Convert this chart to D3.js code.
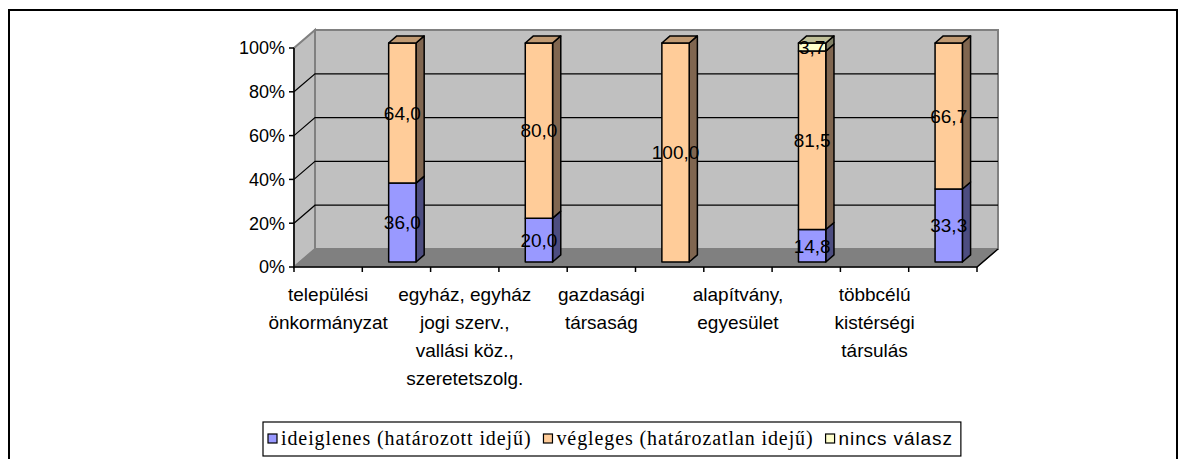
<!DOCTYPE html>
<html>
<head>
<meta charset="utf-8">
<script src="https://cdn.jsdelivr.net/npm/d3@7"></script>
<style>
  body { margin: 0; background: #fff; }
  svg { display: block; }
  .tick-label, .cat-label, .val-label { font-family: "Liberation Sans", Arial, sans-serif; fill: #000; }
</style>
</head>
<body>
<svg id="chart"></svg>
<script>
// categories (every second label is hidden in the original chart)
const categories = [
    'települési önkormányzat', '',
    'egyház, egyház jogi szerv., vallási köz., szeretetszolg.', '',
    'gazdasági társaság', '',
    'alapítvány, egyesület', '',
    'többcélú kistérségi társulás', ''
];
// series values, percent
const ideiglenes = [0, 36.0, 0, 20.0, 0, 0, 0, 14.8, 0, 33.3];
const vegleges   = [0, 64.0, 0, 80.0, 0, 100.0, 0, 81.5, 0, 66.7];
const nincsValasz = [0, 0, 0, 0, 0, 0, 0, 3.7, 0, 0];

const seriesNames = ['ideiglenes (határozott idejű)', 'végleges (határozatlan idejű)', 'nincs válasz'];
const yTicks = [0, 20, 40, 60, 80, 100];

const W = 1186, H = 459;
const DX = 21, DY = 18;           // depth offset of the 3D box
const Z0 = 0.28, Z1 = 0.67;       // bar depth range

const seriesStyle = [
    {front: '#9999FF', side: '#4D4D80', top: '#7373BF', font: '"Liberation Serif", "Times New Roman", serif', size: 20, ls: 0.9},
    {front: '#FFCC99', side: '#806650', top: '#C09A73', font: '"Liberation Serif", "Times New Roman", serif', size: 20, ls: 0.9},
    {front: '#FFFFCC', side: '#808066', top: '#C0C099', font: '"Liberation Sans", Arial, sans-serif', size: 19, ls: 0.9}
];

const svg = d3.select('#chart').attr('width', W).attr('height', H);

// outer frame
svg.append('rect')
    .attr('x', 9).attr('y', 10)
    .attr('width', 1168).attr('height', H + 10)
    .attr('fill', '#fff').attr('stroke', '#000').attr('stroke-width', 2);

const xScale = d3.scaleBand().domain(d3.range(categories.length)).range([294, 977]).padding(0);
const yScale = d3.scaleLinear().domain([0, 100]).range([267, 48]);

// projection: front x, value, depth -> screen point
const P = (x, v, z) => [x + z * DX, yScale(v) - z * DY];
const poly = pts => pts.map(p => p.join(',')).join(' ');

const x0 = xScale.range()[0], x1 = xScale.range()[1];

// walls and floor
svg.append('polygon')
    .attr('points', poly([P(x0, 0, 1), P(x0, 100, 1), P(x1, 100, 1), P(x1, 0, 1)]))
    .attr('fill', '#C0C0C0').attr('stroke', '#808080').attr('stroke-width', 2);
svg.append('polygon')
    .attr('points', poly([P(x0, 0, 0), P(x0, 100, 0), P(x0, 100, 1), P(x0, 0, 1)]))
    .attr('fill', '#C0C0C0').attr('stroke', '#808080').attr('stroke-width', 2);
svg.append('polygon')
    .attr('points', poly([P(x0, 0, 0), P(x1, 0, 0), P(x1, 0, 1), P(x0, 0, 1)]))
    .attr('fill', '#808080').attr('stroke', '#808080').attr('stroke-width', 1);

// gridlines on back and left wall
const grid = svg.append('g').attr('stroke', '#000').attr('stroke-width', 1.2);
yTicks.filter(t => t > 0 && t < 100).forEach(t => {
    grid.append('polyline')
        .attr('fill', 'none')
        .attr('points', poly([P(x0, t, 0), P(x0, t, 1), P(x1, t, 1)]));
});

// stacked data
const table = categories.map((c, i) => ({i, s0: ideiglenes[i], s1: vegleges[i], s2: nincsValasz[i]}));
const stack = d3.stack().keys(['s0', 's1', 's2'])(table);

const bw = xScale.bandwidth() * 0.4;
const barLeft = i => xScale(i) + (xScale.bandwidth() - bw) / 2;

const bars = svg.append('g');
table.forEach(d => {
    const segs = stack.map((layer, k) => ({k, v0: layer[d.i][0], v1: layer[d.i][1], val: d['s' + k]}))
        .filter(s => s.val > 0);
    if (!segs.length) return;
    const xl = barLeft(d.i), xr = xl + bw;
    segs.forEach((s, j) => {
        const st = seriesStyle[s.k];
        bars.append('polygon')
            .attr('points', poly([P(xr, s.v0, Z0), P(xr, s.v1, Z0), P(xr, s.v1, Z1), P(xr, s.v0, Z1)]))
            .attr('fill', st.side).attr('stroke', '#000').attr('stroke-width', 1.5).attr('stroke-linejoin', 'round');
        bars.append('polygon')
            .attr('points', poly([P(xl, s.v0, Z0), P(xr, s.v0, Z0), P(xr, s.v1, Z0), P(xl, s.v1, Z0)]))
            .attr('fill', st.front).attr('stroke', '#000').attr('stroke-width', 1.5).attr('stroke-linejoin', 'round');
        if (j === segs.length - 1) {
            bars.append('polygon')
                .attr('points', poly([P(xl, s.v1, Z0), P(xr, s.v1, Z0), P(xr, s.v1, Z1), P(xl, s.v1, Z1)]))
                .attr('fill', st.top).attr('stroke', '#000').attr('stroke-width', 1.5).attr('stroke-linejoin', 'round');
        }
    });
    // value labels
    segs.forEach(s => {
        const c = P(xl + bw / 2, (s.v0 + s.v1) / 2, Z0);
        bars.append('text')
            .attr('class', 'val-label')
            .attr('x', c[0]).attr('y', c[1])
            .attr('dy', '0.36em')
            .attr('text-anchor', 'middle')
            .attr('font-size', '19px')
            .text(d3.format('.1f')(s.val).replace('.', ','));
    });
});

// front axes
const axes = svg.append('g').attr('stroke', '#000').attr('stroke-width', 1.5);
axes.append('polyline').attr('fill', 'none')
    .attr('points', poly([P(x0, 100, 0), P(x0, 0, 0), P(x1, 0, 0), P(x1, 0, 1)]));
yTicks.forEach(t => {
    axes.append('line')
        .attr('x1', x0 - 5).attr('x2', x0)
        .attr('y1', yScale(t)).attr('y2', yScale(t));
});
d3.range(categories.length + 1).forEach(i => {
    const x = i < categories.length ? xScale(i) : x1;
    axes.append('line')
        .attr('x1', x).attr('x2', x)
        .attr('y1', yScale(0)).attr('y2', yScale(0) + 5);
});

svg.append('g').selectAll('text')
    .data(yTicks)
    .join('text')
    .attr('class', 'tick-label')
    .attr('x', x0 - 9)
    .attr('y', d => yScale(d))
    .attr('dy', '0.36em')
    .attr('text-anchor', 'end')
    .attr('font-size', '18px')
    .text(d => d + '%');

// category labels, wrapped
const catG = svg.append('g');
categories.forEach((name, i) => {
    if (!name) return;
    const t = catG.append('text')
        .attr('class', 'cat-label')
        .attr('text-anchor', 'middle')
        .attr('font-size', '19px');
    const cx = xScale(i) + xScale.bandwidth() / 2;
    const words = name.split(' ');
    let lines = [], line = [];
    words.forEach(w => {
        line.push(w);
        t.text(line.join(' '));
        if (t.node().getComputedTextLength() > 142 && line.length > 1) {
            line.pop();
            lines.push(line.join(' '));
            line = [w];
        }
    });
    lines.push(line.join(' '));
    t.text(null);
    lines.forEach((l, k) => {
        t.append('tspan').attr('x', cx).attr('y', 301 + k * 28).text(l);
    });
});

// legend
const legend = svg.append('g');
const legendBox = legend.append('rect')
    .attr('x', 263).attr('y', 422).attr('height', 34)
    .attr('fill', '#fff').attr('stroke', '#000').attr('stroke-width', 1.2);
let lx = 268;
seriesNames.forEach((name, k) => {
    const st = seriesStyle[k];
    legend.append('rect')
        .attr('x', lx).attr('y', 434).attr('width', 9).attr('height', 9)
        .attr('fill', st.front).attr('stroke', '#000').attr('stroke-width', 1.2);
    const t = legend.append('text')
        .attr('x', lx + 13).attr('y', 445)
        .style('font-family', st.font)
        .style('letter-spacing', st.ls + 'px')
        .attr('font-size', st.size + 'px')
        .text(name);
    lx += 13 + t.node().getComputedTextLength() + 12;
});
legendBox.attr('width', lx - 263 - 4);
</script>
</body>
</html>
